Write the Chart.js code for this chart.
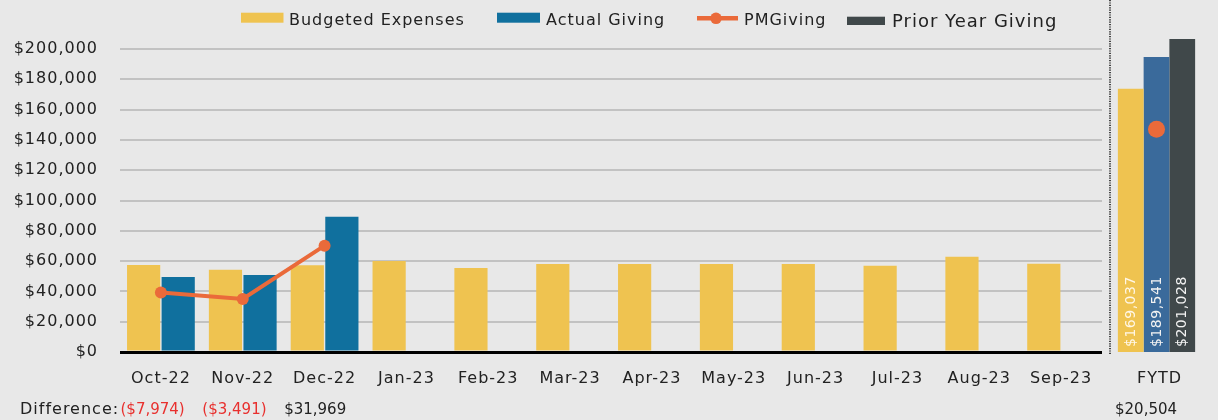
<!DOCTYPE html>
<html>
<head>
<meta charset="utf-8">
<script src="https://cdn.jsdelivr.net/npm/chart.js@4.4.0/dist/chart.umd.min.js"></script>
<style>
html,body{margin:0;padding:0;background:#e8e8e8;}
#wrap{position:relative;width:1218px;height:420px;background:#e8e8e8;overflow:hidden;}
canvas{position:absolute;top:0;}
</style>
</head>
<body>
<div id="wrap">
<canvas id="main" width="1218" height="420" style="left:0;width:1218px;height:420px"></canvas>
<canvas id="fytd" width="118" height="420" style="left:1100px;width:118px;height:420px"></canvas>
</div>
<script>
// ---------- data ----------
const months = ['Oct-22','Nov-22','Dec-22','Jan-23','Feb-23','Mar-23','Apr-23','May-23','Jun-23','Jul-23','Aug-23','Sep-23'];
const budgetedExpenses = [57480, 54300, 57257, 60000, 55400, 58100, 58100, 58100, 58100, 57000, 62800, 58200];
const actualGiving = [49506, 50809, 89226, null, null, null, null, null, null, null, null, null];
const pmGiving = [39300, 35000, 70200, null, null, null, null, null, null, null, null, null];
const yTickValues = [0, 20000, 40000, 60000, 80000, 100000, 120000, 140000, 160000, 180000, 200000];
const fytdLabels = ['FYTD'];
const fytdBudgeted = [169037];
const fytdActual = [189541];
const fytdPrior = [201028];
const fytdPM = [143000];
const legendLabels = ['Budgeted Expenses', 'Actual Giving', 'PMGiving', 'Prior Year Giving'];

// ---------- styles ----------
const FONT = '"DejaVu Sans", sans-serif';
const YELLOW = '#EFC350';
const BLUE = '#10709E';
const BLUE2 = '#3A6A9B';
const GREY = '#40484A';
const ORANGE = '#EA6A3A';
const TEXT = '#222222';
const RED = '#E8302E';

function money(v){
  const s = '$' + Math.abs(Math.round(v)).toLocaleString('en-US');
  return v < 0 ? '(' + s + ')' : s;
}

const spacing = {
  id: 'spacing',
  beforeUpdate(c){ c.ctx.letterSpacing = '1px'; },
  beforeDraw(c){ c.ctx.letterSpacing = '1px'; }
};

const mainExtras = {
  id: 'mainExtras',
  afterDraw(chart){
    const ctx = chart.ctx;
    ctx.save();
    ctx.letterSpacing = '1px';
    ctx.textAlign = 'left';
    ctx.textBaseline = 'alphabetic';
    // legend
    ctx.font = '16px ' + FONT;
    ctx.fillStyle = YELLOW; ctx.fillRect(241, 12.7, 42.5, 10);
    ctx.fillStyle = TEXT; ctx.fillText(legendLabels[0], 289, 25);
    ctx.fillStyle = BLUE; ctx.fillRect(497, 12.7, 43, 10);
    ctx.fillStyle = TEXT; ctx.fillText(legendLabels[1], 546, 25);
    ctx.strokeStyle = ORANGE; ctx.lineWidth = 4.5;
    ctx.beginPath(); ctx.moveTo(697, 18.3); ctx.lineTo(738, 18.3); ctx.stroke();
    ctx.fillStyle = ORANGE; ctx.beginPath(); ctx.arc(716, 18.3, 5.8, 0, Math.PI*2); ctx.fill();
    ctx.fillStyle = TEXT; ctx.fillText(legendLabels[2], 744, 25);
    ctx.fillStyle = GREY; ctx.fillRect(847, 16.7, 38, 8.3);
    ctx.font = '18px ' + FONT;
    ctx.fillStyle = TEXT; ctx.fillText(legendLabels[3], 892, 27.3);
    // difference row
    ctx.font = '16px ' + FONT;
    ctx.fillStyle = TEXT;
    ctx.fillText('Difference:', 20, 413.5);
    ctx.letterSpacing = '0px';
    ctx.font = '15px ' + FONT;
    const x = chart.scales.x;
    const half = (x.getPixelForValue(1) - x.getPixelForValue(0)) / 2;
    actualGiving.forEach((a, i) => {
      if (a == null) return;
      const d = a - budgetedExpenses[i];
      ctx.fillStyle = d < 0 ? RED : TEXT;
      ctx.fillText(money(d), x.getPixelForValue(i) - half + 0.5, 413.5);
    });
    ctx.restore();
  }
};

new Chart(document.getElementById('main'), {
  type: 'bar',
  data: {
    labels: months,
    datasets: [
      { type: 'line', label: legendLabels[2], data: pmGiving, order: 0,
        borderColor: ORANGE, backgroundColor: ORANGE, borderWidth: 4,
        pointRadius: 6, pointBorderWidth: 0, pointBackgroundColor: ORANGE, spanGaps: false },
      { label: legendLabels[0], data: budgetedExpenses, backgroundColor: YELLOW, order: 1,
        categoryPercentage: 0.845, barPercentage: 0.96 },
      { label: legendLabels[1], data: actualGiving, backgroundColor: BLUE, order: 1,
        categoryPercentage: 0.845, barPercentage: 0.96 }
    ]
  },
  options: {
    responsive: false,
    animation: false,
    layout: { padding: { top: 49, left: 0, right: 116, bottom: 0 } },
    plugins: { legend: { display: false }, tooltip: { enabled: false } },
    scales: {
      x: {
        grid: { display: false },
        border: { display: false },
        ticks: { color: TEXT, font: { family: FONT, size: 16 }, padding: 9, maxRotation: 0, autoSkip: false },
        afterFit(s){ s.height = 68; }
      },
      y: {
        min: 0, max: 200000,
        afterBuildTicks(s){ s.ticks = yTickValues.map(v => ({ value: v })); },
        border: { display: false },
        grid: {
          drawTicks: false,
          color: c => (c.tick && c.tick.value === 0) ? '#000000' : '#C2C2C2',
          lineWidth: c => (c.tick && c.tick.value === 0) ? 3 : 2
        },
        ticks: { color: TEXT, font: { family: FONT, size: 16 }, padding: 22,
          callback: v => money(v) },
        afterFit(s){ s.width = 120; }
      }
    }
  },
  plugins: [spacing, mainExtras]
});

const fytdExtras = {
  id: 'fytdExtras',
  beforeDraw(chart){
    const ctx = chart.ctx;
    ctx.save();
    ctx.strokeStyle = '#444';
    ctx.lineWidth = 2;
    ctx.setLineDash([1.2, 1.2]);
    ctx.beginPath(); ctx.moveTo(10, 0); ctx.lineTo(10, 355); ctx.stroke();
    ctx.restore();
  },
  afterDatasetsDraw(chart){
    const ctx = chart.ctx;
    ctx.save();
    ctx.letterSpacing = '0.5px';
    ctx.font = '14px ' + FONT;
    ctx.textAlign = 'left';
    ctx.textBaseline = 'middle';
    [1, 2, 3].forEach(di => {
      const el = chart.getDatasetMeta(di).data[0];
      const v = chart.data.datasets[di].data[0];
      ctx.save();
      ctx.translate(el.x + 0.5, chart.chartArea.bottom - 5);
      ctx.rotate(-Math.PI / 2);
      ctx.fillStyle = di === 1 ? '#FFF7E6' : '#F2F2F2';
      ctx.fillText(money(v), 0, 0);
      ctx.restore();
    });
    // difference FYTD
    ctx.letterSpacing = '0px';
    ctx.font = '15px ' + FONT;
    ctx.textBaseline = 'alphabetic';
    const d = fytdActual[0] - fytdBudgeted[0];
    ctx.fillStyle = d < 0 ? RED : TEXT;
    ctx.fillText(money(d), chart.chartArea.left + 1, 413.5);
    ctx.restore();
  }
};

new Chart(document.getElementById('fytd'), {
  type: 'bar',
  data: {
    labels: fytdLabels,
    datasets: [
      { type: 'line', label: legendLabels[2], data: fytdPM, order: 0,
        pointRadius: 8.5, pointBorderWidth: 0, pointBackgroundColor: ORANGE, backgroundColor: ORANGE, borderColor: ORANGE, showLine: false },
      { label: legendLabels[0], data: fytdBudgeted, backgroundColor: YELLOW, order: 1, categoryPercentage: 0.909, barPercentage: 1.0 },
      { label: legendLabels[1], data: fytdActual, backgroundColor: BLUE2, order: 1, categoryPercentage: 0.909, barPercentage: 1.0 },
      { label: legendLabels[3], data: fytdPrior, backgroundColor: GREY, order: 1, categoryPercentage: 0.909, barPercentage: 1.0 }
    ]
  },
  options: {
    responsive: false,
    animation: false,
    layout: { padding: { top: 39, left: 14, right: 19, bottom: 0 } },
    plugins: { legend: { display: false }, tooltip: { enabled: false } },
    scales: {
      x: {
        grid: { display: false },
        border: { display: false },
        ticks: { color: TEXT, font: { family: FONT, size: 16 }, padding: 9, labelOffset: 3, maxRotation: 0 },
        afterFit(s){ s.height = 68; }
      },
      y: { display: false, min: 0, max: 201028 }
    }
  },
  plugins: [spacing, fytdExtras]
});
</script>
</body>
</html>
